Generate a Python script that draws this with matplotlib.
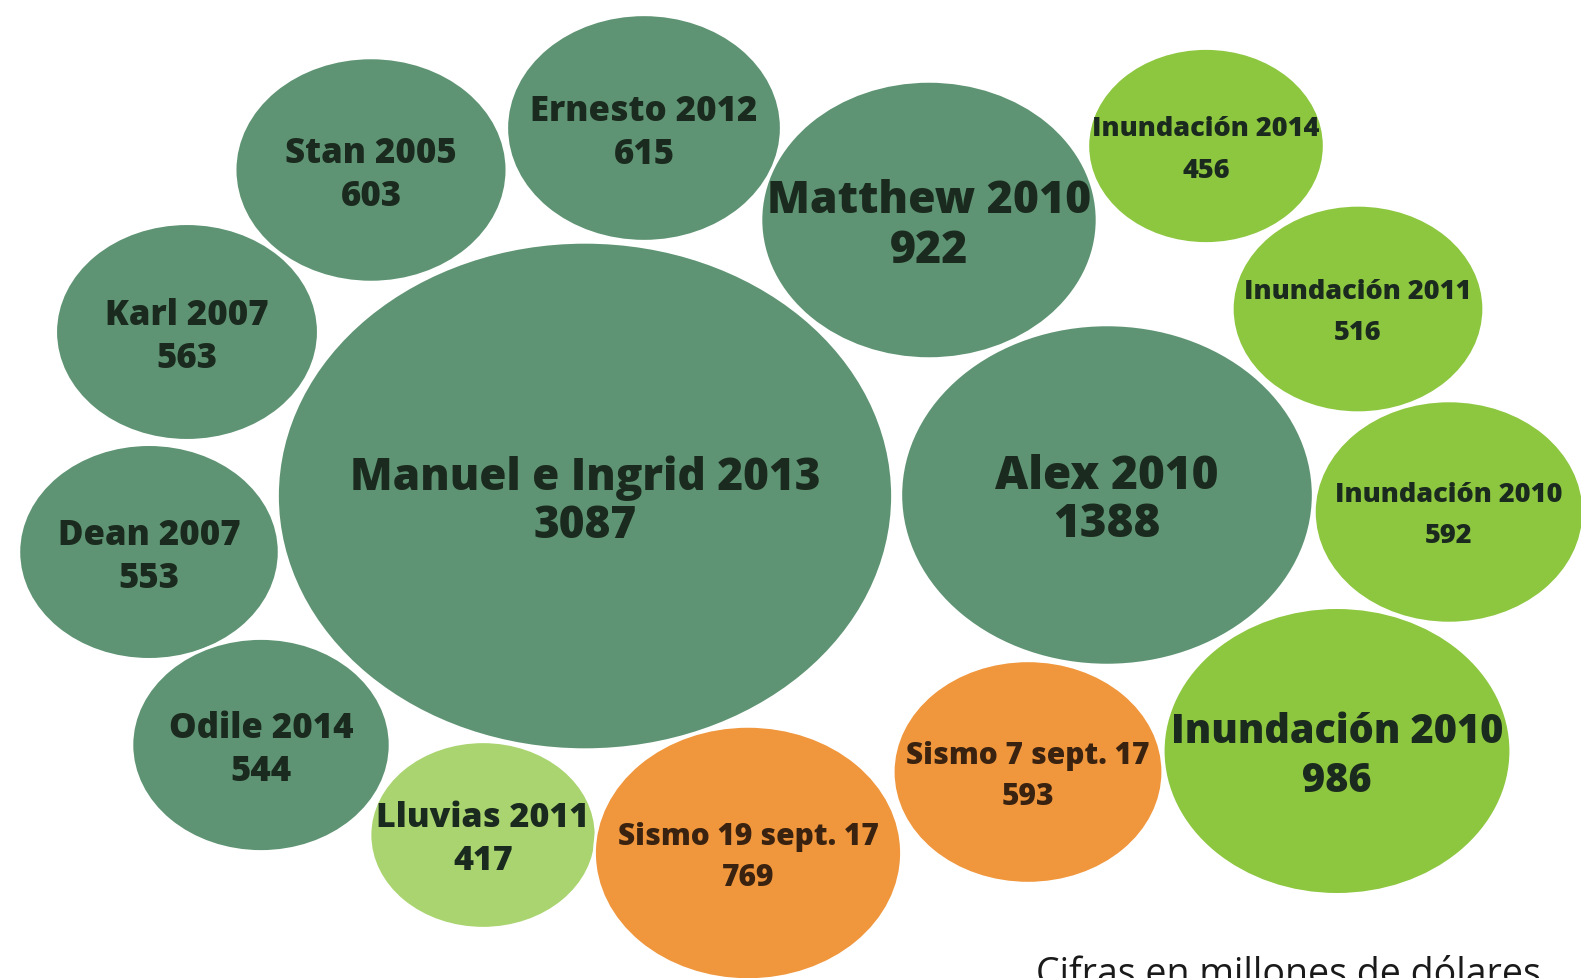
import matplotlib.pyplot as plt
from matplotlib.patches import Ellipse
import numpy as np

plt.rcParams['font.family'] = ['Open Sans', 'DejaVu Sans']

# losses per event, millions of USD
events = ['Manuel e Ingrid 2013', 'Alex 2010', 'Matthew 2010', 'Ernesto 2012',
          'Stan 2005', 'Karl 2007', 'Dean 2007', 'Odile 2014', 'Lluvias 2011',
          'Sismo 19 sept. 17', 'Sismo 7 sept. 17', 'Inundación 2010',
          'Inundación 2010', 'Inundación 2011', 'Inundación 2014']
values = [3087, 1388, 922, 615, 603, 563, 553, 544, 417,
          769, 593, 986, 592, 516, 456]
kind = ['ciclon'] * 8 + ['lluvia', 'sismo', 'sismo', 'inund', 'inund', 'inund', 'inund']

# bubble centres in pixel space (layout)
centres = [(585, 497), (1107, 496), (929, 221), (644, 129), (371, 171),
           (187, 333), (149, 553), (261, 746), (483, 836), (748, 854),
           (1028, 773), (1337, 752), (1449, 513), (1358, 310), (1206, 147)]
font_sizes = [31.8, 33, 32, 25, 25, 25, 25, 25, 24.5,
              21.5, 21.5, 28.5, 19.5, 19.5, 19.5]
line_gap = [48, 48, 50, 43, 43, 43, 43, 43, 43,
            41, 41, 49, 41, 41, 41]

colors = {'ciclon': '#5e9473', 'lluvia': '#a9d46f', 'sismo': '#f0963c',
          'inund': '#8dc63f'}
text_colors = {'ciclon': '#1b2a1e', 'lluvia': '#1b2a1e', 'sismo': '#3a2210',
               'inund': '#1b2a1e'}

W, H = 1581, 979
fig = plt.figure(figsize=(W / 100, H / 100), dpi=100)
ax = fig.add_axes([0, 0, 1, 1])
ax.set_xlim(0, W)
ax.set_ylim(H, 0)
ax.axis('off')

k = 11.07      # width per sqrt(value)
squash = 0.825  # height / width

for name, v, kd, (cx, cy), fs, gap in zip(events, values, kind, centres,
                                          font_sizes, line_gap):
    w = k * np.sqrt(v)
    ax.add_patch(Ellipse((cx, cy), w, w * squash, facecolor=colors[kd],
                         edgecolor='white', linewidth=2))
    for txt, dy in ((name, -gap / 2), (str(v), gap / 2)):
        ax.text(cx, cy + dy, txt, ha='center', va='center_baseline',
                fontsize=fs, fontweight='heavy', color=text_colors[kd])

ax.text(1036, 956, 'Cifras en millones de dólares', ha='left', va='top',
        fontsize=27, color='#1a1a1a')

fig.savefig('out.png', dpi=100)
